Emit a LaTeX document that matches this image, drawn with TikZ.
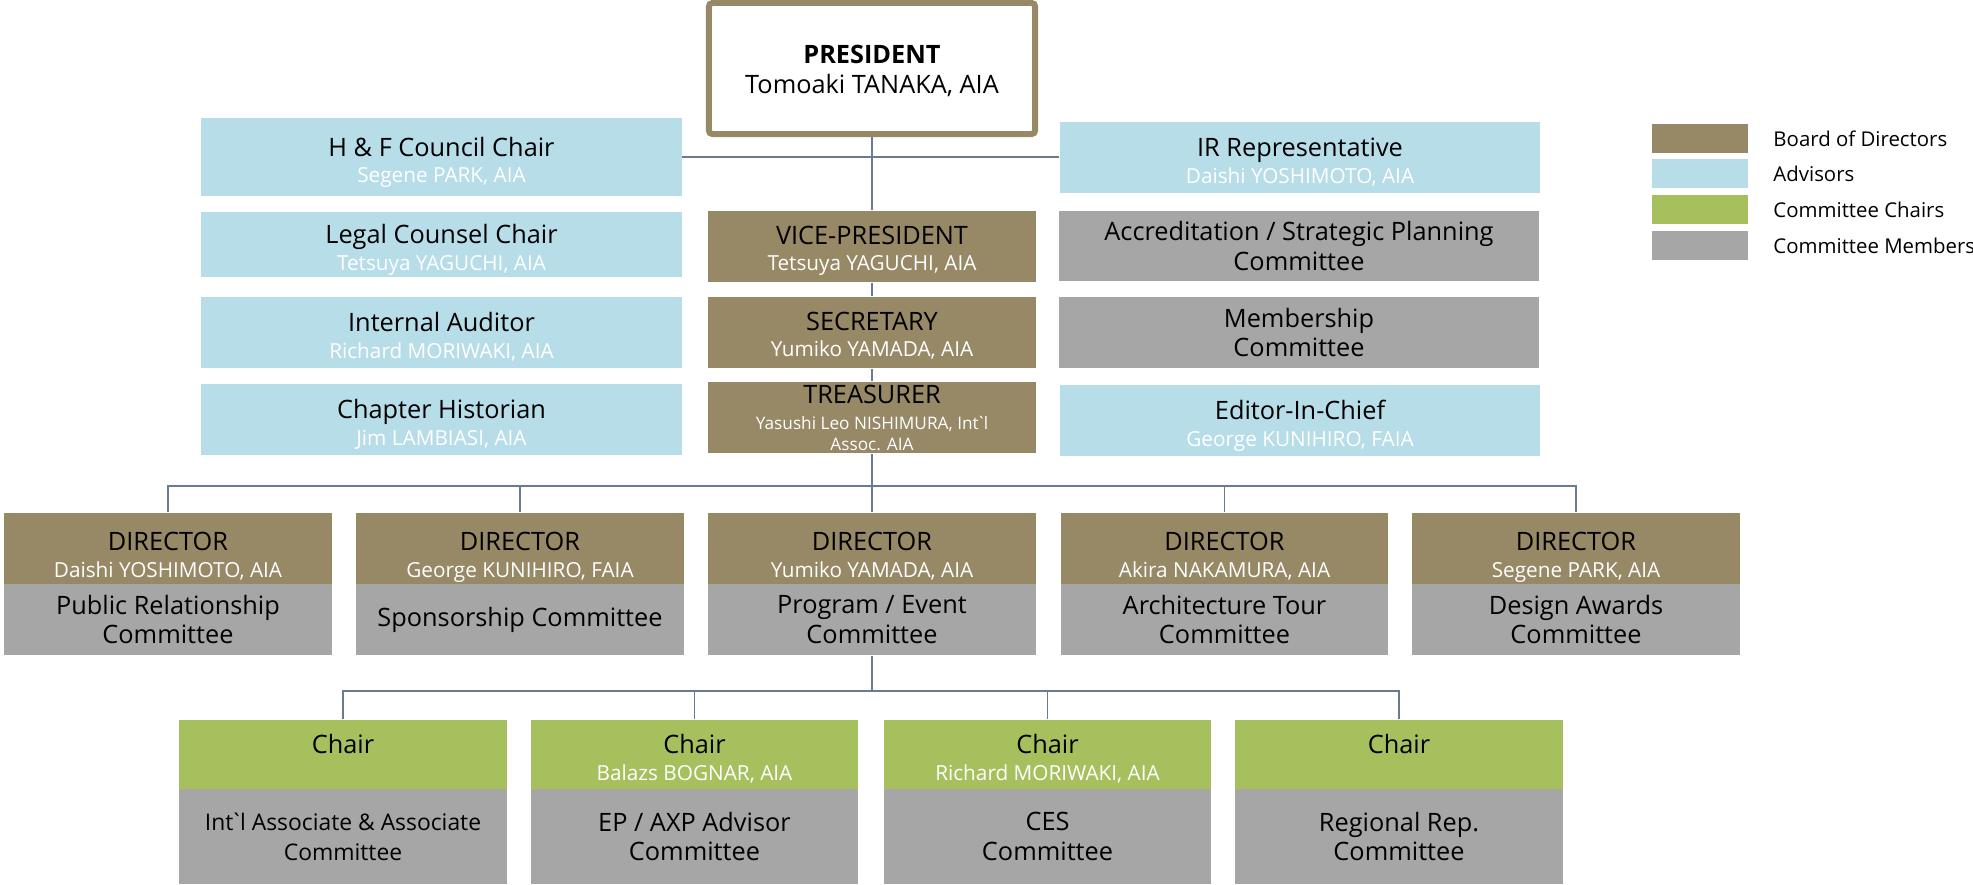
\documentclass[tikz,border=0pt]{standalone}
\usepackage{fontspec}
\setmainfont{Open Sans}
\usetikzlibrary{positioning}

\definecolor{board}{HTML}{978866}
\definecolor{advisor}{HTML}{B7DDE8}
\definecolor{chairgreen}{HTML}{A6C05E}
\definecolor{member}{HTML}{A6A6A6}
\definecolor{linkline}{HTML}{6A7A94}

% name lines printed in white under a title
\newcommand{\who}[1]{\\[-1pt]{\fontsize{5.9}{7}\selectfont\color{white}#1}}
\newcommand{\whosmall}[1]{{\fontsize{4.9}{5.7}\selectfont\color{white}#1}}
\newcommand{\grv}{\kern-0.14em\textasciigrave\kern-0.14em}

\begin{document}
\begin{tikzpicture}[x=0.01cm,y=-0.01cm]

    % let's define some key values
    \def\colw{3.27cm}
    \def\advw{4.8cm}
    \def\boxh{0.71cm}
    \def\xmid{872}

    % Styles
    \tikzstyle{every node}=[font=\fontsize{7.2}{8.5}\selectfont]
    \tikzstyle{box}=[inner sep=0pt, align=center, minimum height=\boxh]
    \tikzstyle{titled}=[text depth=0pt, text height=14.5pt]
    \tikzstyle{brd}=[box, titled, fill=board, minimum width=\colw]
    \tikzstyle{adv}=[box, titled, fill=advisor, minimum width=\advw]
    \tikzstyle{chr}=[box, titled, fill=chairgreen, minimum width=\colw, minimum height=0.69cm]
    \tikzstyle{mem}=[box, fill=member]
    \tikzstyle{link}=[draw=linkline, line width=0.45pt]
    \tikzstyle{swatch}=[inner sep=0pt, minimum width=0.96cm, minimum height=0.29cm]
    \tikzstyle{legend}=[font=\fontsize{5.8}{7}\selectfont, inner sep=0pt]

    \useasboundingbox (0,0) rectangle (1973,884);

    % president
    \node[draw=board, line width=1.7pt, rounded corners=1pt, fill=white, align=center,
          text depth=0pt, text height=14.2pt,
          minimum width=3.26cm, minimum height=1.31cm, inner sep=0pt] (pres) at (\xmid,68.5)
          {\textbf{PRESIDENT}\\Tomoaki TANAKA, AIA};

    % advisors, left
    \node[adv, minimum height=0.78cm] (hf) at (441.5,157) {H \& F Council Chair\who{Segene PARK, AIA}};
    \node[adv, minimum height=0.65cm] (legal) at (441.5,244.5) {Legal Counsel Chair\who{Tetsuya YAGUCHI, AIA}};
    \node[adv] (audit) at (441.5,332.5) {Internal Auditor\who{Richard MORIWAKI, AIA}};
    \node[adv] (hist) at (441.5,419.5) {Chapter Historian\who{Jim LAMBIASI, AIA}};

    % advisors and committees, right
    \node[adv] (ir) at (1300,157.5) {IR Representative\who{Daishi YOSHIMOTO, AIA}};
    \node[mem, minimum width=\advw, minimum height=0.70cm] (accr) at (1299,246) {Accreditation / Strategic Planning\\Committee};
    \node[mem, minimum width=\advw] (memb) at (1299,332.5) {Membership\\Committee};
    \node[adv] (edit) at (1300,420.5) {Editor-In-Chief\who{George KUNIHIRO, FAIA}};

    % officers
    \node[brd, text height=13.7pt] (vp) at (\xmid,246.5) {VICE-PRESIDENT\who{Tetsuya YAGUCHI, AIA}};
    \node[brd, text height=13.9pt] (sec) at (\xmid,332.5) {SECRETARY\who{Yumiko YAMADA, AIA}};
    \node[brd, text height=18.6pt] (tre) at (\xmid,417.5) {TREASURER\\[-1pt]\whosmall{Yasushi Leo NISHIMURA, Int\grv l}\\[-2.6pt]\whosmall{Assoc. AIA}};

    % directors
    \node[brd, text height=16.2pt] (dir1) at (168,548.5) {DIRECTOR\who{Daishi YOSHIMOTO, AIA}};
    \node[brd, text height=16.2pt] (dir2) at (520,548.5) {DIRECTOR\who{George KUNIHIRO, FAIA}};
    \node[brd, text height=16.2pt] (dir3) at (\xmid,548.5) {DIRECTOR\who{Yumiko YAMADA, AIA}};
    \node[brd, text height=16.2pt] (dir4) at (1224.5,548.5) {DIRECTOR\who{Akira NAKAMURA, AIA}};
    \node[brd, text height=16.2pt] (dir5) at (1576,548.5) {DIRECTOR\who{Segene PARK, AIA}};
    % director committees
    \node[mem, minimum width=\colw] (com1) at (168,619.5) {Public Relationship\\Committee};
    \node[mem, minimum width=\colw] (com2) at (520,619.5) {Sponsorship Committee};
    \node[mem, minimum width=\colw] (com3) at (\xmid,619.5) {Program / Event\\Committee};
    \node[mem, minimum width=\colw] (com4) at (1224.5,619.5) {Architecture Tour\\Committee};
    \node[mem, minimum width=\colw] (com5) at (1576,619.5) {Design Awards\\Committee};

    % chairs
    \node[chr] (chr1) at (343,754.5) {Chair\who{\strut}};
    \node[chr] (chr2) at (694.5,754.5) {Chair\who{Balazs BOGNAR, AIA}};
    \node[chr] (chr3) at (1047.5,754.5) {Chair\who{Richard MORIWAKI, AIA}};
    \node[chr] (chr4) at (1399,754.5) {Chair\who{\strut}};
    % chair committees
    \node[mem, minimum width=\colw, minimum height=0.95cm, font=\fontsize{6.5}{8.5}\selectfont] (sub1) at (343,836.5) {Int\grv l Associate \& Associate\\Committee};
    \node[mem, minimum width=\colw, minimum height=0.95cm] (sub2) at (694.5,836.5) {EP / AXP Advisor\\Committee};
    \node[mem, minimum width=\colw, minimum height=0.95cm] (sub3) at (1047.5,836.5) {CES\\Committee};
    \node[mem, minimum width=\colw, minimum height=0.95cm] (sub4) at (1399,836.5) {Regional Rep.\\Committee};

    % legend
    \node[swatch, fill=board] (lgbrd) at (1700,138.5) {};
    \node[swatch, fill=advisor] (lgadv) at (1700,173.5) {};
    \node[swatch, fill=chairgreen] (lgchr) at (1700,209.5) {};
    \node[swatch, fill=member] (lgmem) at (1700,245.5) {};
    \node[legend, right=0.24cm of lgbrd] (lgbrdtxt) {Board of Directors};
    \node[legend, right=0.24cm of lgadv] (lgadvtxt) {Advisors};
    \node[legend, right=0.24cm of lgchr] (lgchrtxt) {Committee Chairs};
    \node[legend, right=0.24cm of lgmem] (lgmemtxt) {Committee Members};

    % connectors
    \draw[link] (pres.south) -- (vp.north);
    \draw[link] (vp.south) -- (sec.north);
    \draw[link] (sec.south) -- (tre.north);
    \draw[link] (tre.south) -- (dir3.north);
    \draw[link] (hf.east) -- (hf.east -| ir.west);

    % director bus
    \coordinate (dbus) at (\xmid,486);
    \draw[link] (dir1.north) |- (dbus) -| (dir5.north);
    \draw[link] (dir2.north) -- (dir2.north |- dbus);
    \draw[link] (dir4.north) -- (dir4.north |- dbus);

    % chair bus
    \coordinate (cbus) at (\xmid,691);
    \draw[link] (com3.south) -- (cbus);
    \draw[link] (chr1.north) |- (cbus) -| (chr4.north);
    \draw[link] (chr2.north) -- (chr2.north |- cbus);
    \draw[link] (chr3.north) -- (chr3.north |- cbus);

\end{tikzpicture}
\end{document}
